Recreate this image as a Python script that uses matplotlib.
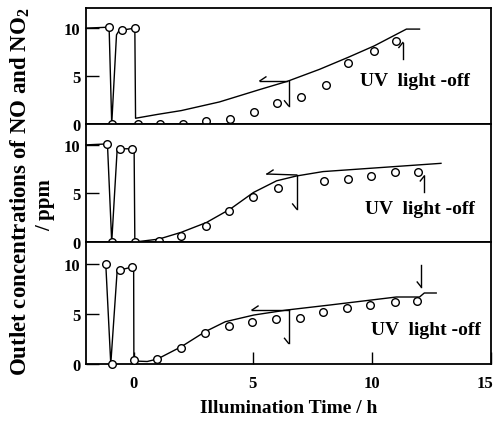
import matplotlib
matplotlib.use('Agg')
import matplotlib.pyplot as plt
import matplotlib.transforms as mtransforms

plt.rcParams['font.family'] = 'Liberation Serif'
plt.rcParams['font.weight'] = 'bold'
plt.rcParams['mathtext.fontset'] = 'custom'
plt.rcParams['mathtext.rm'] = 'Liberation Serif:bold'
plt.rcParams['mathtext.default'] = 'rm'

# measured points (circles), one set per panel, top to bottom
pts_x = [
    [-1.03, -0.9, -0.47, 0.05, 0.2, 1.1, 2.07, 3.04, 4.06, 5.04, 6.0, 7.04, 8.09, 9.0, 10.07, 11.0],
    [-1.1, -0.9, -0.57, -0.06, 0.05, 1.06, 2.0, 3.05, 4.02, 5.03, 6.04, 8.0, 9.0, 9.98, 10.99, 11.94],
    [-1.17, -0.9, -0.57, -0.06, 0.0, 1.0, 2.0, 3.0, 3.99, 4.96, 5.96, 6.99, 7.96, 8.96, 9.92, 10.96, 11.9],
]
pts_y = [
    [10.1, 0, 9.8, 10.0, 0, 0, 0, 0.35, 0.5, 1.3, 2.15, 2.8, 4.1, 6.4, 7.6, 8.7],
    [10.1, 0, 9.6, 9.6, 0, 0.07, 0.65, 1.6, 3.2, 4.6, 5.6, 6.25, 6.5, 6.84, 7.2, 7.25],
    [10.0, 0, 9.4, 9.7, 0.4, 0.5, 1.57, 3.07, 3.8, 4.23, 4.5, 4.63, 5.2, 5.6, 5.86, 6.16, 6.26],
]

# calculated curves
line_x = [
    [-2, -1.03, -0.92, -0.72, -0.6, -0.47, 0.05, 0.08, 1.0, 2.0, 3.6, 5.3, 6.45, 7.8, 9.0, 10.1, 11.45, 12.0],
    [-2, -1.1, -0.92, -0.69, -0.57, -0.06, 0.02, 0.05, 1.06, 2.0, 3.05, 4.06, 5.03, 6.0, 6.84, 7.95, 12.9],
    [-1.17, -0.96, -0.69, -0.57, -0.06, 0.0, 0.01, 0.57, 1.0, 2.0, 3.0, 3.85, 5.05, 6.43, 8.24, 11.03, 12.0, 12.2, 12.7],
]
line_y = [
    [10, 10.1, 0, 9.3, 9.8, 9.8, 10.0, 0.6, 1.0, 1.4, 2.3, 3.6, 4.45, 5.7, 6.95, 8.15, 9.9, 9.9],
    [10, 10.1, 0, 9.6, 9.6, 9.6, 9.6, 0.0, 0.3, 1.0, 2.0, 3.4, 5.1, 6.3, 6.8, 7.25, 8.1],
    [10.0, 0, 9.4, 9.4, 9.7, 9.7, 0.3, 0.25, 0.5, 1.73, 3.23, 4.23, 4.9, 5.4, 5.9, 6.7, 6.7, 7.1, 7.1],
]

# arrows: (x0, y0, x1, y1, barb dx px, barb dy px)
arrows = [
    [(6.45, 4.5, 5.3, 4.5, 6, 4), (6.5, 4.5, 6.5, 1.9, -4, 5), (11.3, 6.8, 11.3, 8.5, -4, -5)],
    [(6.84, 6.9, 5.6, 7.0, 6, 4), (6.84, 6.9, 6.84, 3.4, -4, 5), (12.2, 5.1, 12.2, 6.8, -4, -5)],
    [(6.5, 5.4, 4.97, 5.4, 6, 4), (6.5, 5.4, 6.5, 2.07, -4, 5), (12.07, 9.9, 12.07, 7.7, -4, 5)],
]
label_pos = [(9.5, 4.5), (9.7, 3.4), (9.96, 3.4)]
ytops = [12.1, 12.15, 12.2]

W, H = 497, 431
fig = plt.figure(figsize=(W / 100, H / 100), dpi=100)

# panel pixel bounds (top, bottom)
bounds = [(9, 125), (125, 243), (243, 365)]
left, right = 86, 491

for i in range(3):
    t, b = bounds[i]
    ax = fig.add_axes([left / W, (H - b) / H, (right - left) / W, (b - t) / H])
    ax.set_xlim(-2, 15)
    ax.set_ylim(0, ytops[i])
    ax.plot(line_x[i], line_y[i], color='black', lw=1.0, clip_on=False, zorder=2)
    ax.plot(pts_x[i], pts_y[i], 'o', ms=5.5, mfc='white', mec='black', mew=1.0,
            clip_on=False, zorder=3)
    for x0, y0, x1, y1, dx, dy in arrows[i]:
        ax.plot([x0, x1], [y0, y1], color='black', lw=1.0)
        px, py = ax.transData.transform((x1, y1))
        bx, by = ax.transData.inverted().transform((px + dx, py + dy))
        ax.plot([x1, bx], [y1, by], color='black', lw=1.0)
    ax.text(label_pos[i][0], label_pos[i][1], 'UV  light -off', fontsize=14,
            fontweight='bold', ha='left', va='center')
    ax.set_yticks([0, 5, 10])
    ax.set_yticklabels(['0', '5', '10'], fontsize=12, fontweight='bold')
    ax.tick_params(axis='y', direction='in', length=9, width=1.0, pad=4)
    ax.set_xticks([0, 5, 10, 15])
    if i < 2:
        ax.tick_params(axis='x', direction='in', length=0, labelbottom=False)
    else:
        ax.set_xticklabels(['0', '5', '10', '15'], fontsize=12, fontweight='bold')
        ax.tick_params(axis='x', direction='in', length=9, width=1.0, pad=8)
        last = ax.get_xticklabels()[-1]
        shift = mtransforms.ScaledTranslation(-6 / 100, 0, fig.dpi_scale_trans)
        last.set_transform(last.get_transform() + shift)
    for s in ax.spines.values():
        s.set_linewidth(1.3)

fig.text((left + right) / 2 / W, (H - 409) / H, 'Illumination Time / h',
         fontsize=14, fontweight='bold', ha='center', va='center')
fig.text(20 / W, (H - 192) / H, 'Outlet concentrations of NO and NO$_2$',
         fontsize=16.5, fontweight='bold', rotation=90, ha='center', va='center')
fig.text(45 / W, (H - 205) / H, '/ ppm', fontsize=15, fontweight='bold',
         rotation=90, ha='center', va='center')

fig.savefig('out.png', dpi=100)
